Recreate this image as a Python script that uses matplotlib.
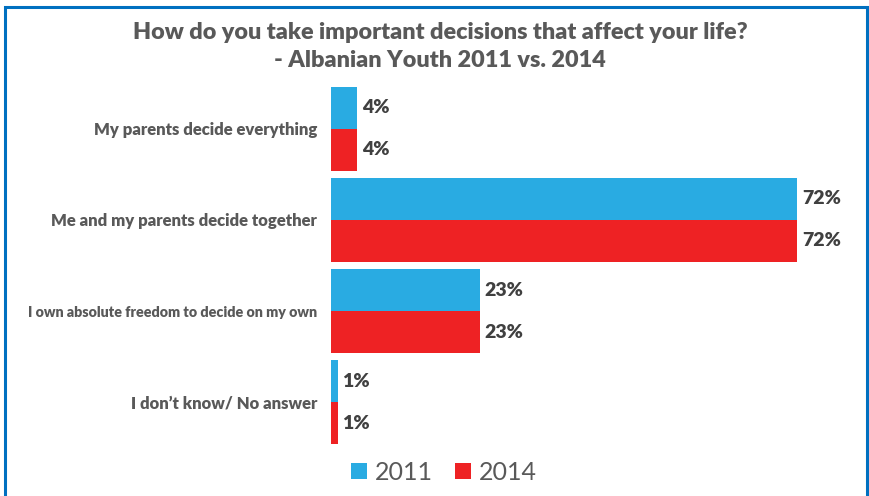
import numpy as np
import matplotlib
matplotlib.use('Agg')
import matplotlib.pyplot as plt
from matplotlib.patches import Rectangle

# data
categories = ['My parents decide everything',
              'Me and my parents decide together',
              'I own absolute freedom to decide on my own',
              'I don\u2019t know/ No answer']
vals_2011 = [4, 72, 23, 1]
vals_2014 = [4, 72, 23, 1]
years = ['2011', '2014']

BLUE = '#29ABE2'
RED = '#EE2224'
plt.rcParams['font.family'] = ['Lato', 'DejaVu Sans']

fig = plt.figure(figsize=(8.7, 4.96), dpi=100)
ax = fig.add_axes([0.3805, 0.0968, 0.5954, 0.7359])

y = np.arange(len(categories))
h = 0.46
b1 = ax.barh(y - h/2, vals_2011, height=h, color=BLUE, label=years[0])
b2 = ax.barh(y + h/2, vals_2014, height=h, color=RED, label=years[1])

for bars, vals in ((b1, vals_2011), (b2, vals_2014)):
    for bar, v in zip(bars, vals):
        ax.annotate(f'{v}%', (bar.get_width(), bar.get_y() + bar.get_height()/2),
                    xytext=(3.5, 0), textcoords='offset points', va='center', ha='left',
                    fontsize=14, fontweight='heavy', color='#404040')

ax.set_xlim(0, 80)
ax.set_ylim(3.5, -0.5)
ax.set_yticks(y)
ax.set_yticklabels(categories, fontsize=12, fontweight='heavy', color='#595959')
# the long label was shrunk in the original
ax.get_yticklabels()[2].set_fontsize(10.3)
ax.tick_params(axis='y', length=0, pad=10)
ax.set_xticks([])
for s in ax.spines.values():
    s.set_visible(False)

fig.text(0.506, 0.906, 'How do you take important decisions that affect your life?\n- Albanian Youth 2011 vs. 2014',
         ha='center', va='center', fontsize=16.8, fontweight='heavy', color='#595959',
         linespacing=1.4)

fig.legend(handles=[b1, b2], labels=years, loc='center', bbox_to_anchor=(0.51, 0.048),
           ncol=2, frameon=False, fontsize=18, handlelength=0.65, handleheight=0.65,
           handletextpad=0.3, columnspacing=0.9, labelcolor='#595959')

# blue frame round the chart
fig.add_artist(Rectangle((0.0063, -0.01), 0.99, 0.9963, transform=fig.transFigure,
                         fill=False, edgecolor='#0070C0', linewidth=2.2))

fig.savefig('out.png', dpi=100)
